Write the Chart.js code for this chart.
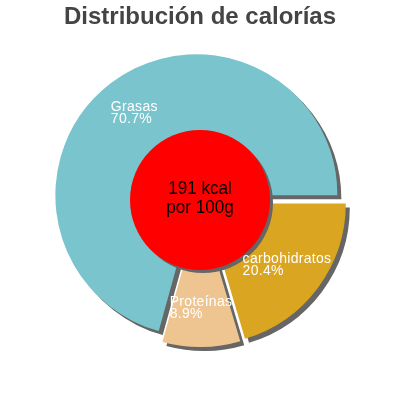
<!DOCTYPE html>
<html>
<head>
<meta charset="utf-8">
<script src="https://cdn.jsdelivr.net/npm/chart.js@4/dist/chart.umd.min.js"></script>
<style>
  html, body { margin: 0; padding: 0; background: #fff; }
  #wrap { width: 400px; height: 400px; }
</style>
</head>
<body>
<div id="wrap"><canvas id="chart" width="400" height="400"></canvas></div>
<script>
// data
var labels = ["carbohidratos", "Proteínas", "Grasas"];
var percents = [20.4, 8.9, 70.7];
var colors = ["#DAA520", "#EEC591", "#7AC5CD"];
var centerLines = ["191 kcal", "por 100g"];
var title = "Distribución de calorías";

var explode = 6;   // px each slice is pushed out from the centre

var pieExtras = {
    id: 'pieExtras',
    beforeDatasetsDraw: function(chart) {
        var ctx = chart.ctx;
        // Chart.js's own "offset" also grows big slices, so shift them by hand
        chart.getDatasetMeta(0).data.forEach(function(arc) {
            if (arc._exploded) return;
            var draw = arc.draw;
            arc.draw = function(c, area) {
                var mid = (this.startAngle + this.endAngle) / 2;
                c.save();
                c.translate(Math.cos(mid) * explode, Math.sin(mid) * explode);
                draw.call(this, c, area);
                c.restore();
            };
            arc._exploded = true;
        });
        ctx.save();
        ctx.shadowColor = "#666666";
        ctx.shadowOffsetX = 4;
        ctx.shadowOffsetY = 4;
        ctx.shadowBlur = 0;
    },
    afterDatasetsDraw: function(chart) {
        var ctx = chart.ctx;
        ctx.restore();
        var meta = chart.getDatasetMeta(0);
        var arc0 = meta.data[0];
        var cx = arc0.x, cy = arc0.y;
        var r = arc0.outerRadius;

        // red centre disc with its shadow
        ctx.save();
        ctx.shadowColor = "#666666";
        ctx.shadowOffsetX = 3;
        ctx.shadowOffsetY = 3;
        ctx.shadowBlur = 0;
        ctx.fillStyle = "#FF0000";
        ctx.beginPath();
        ctx.arc(cx, cy, 70, 0, Math.PI * 2);
        ctx.fill();
        ctx.restore();

        ctx.save();
        ctx.fillStyle = "#000";
        ctx.font = "19px 'Liberation Sans', Arial, sans-serif";
        ctx.textAlign = "center";
        ctx.textBaseline = "middle";
        ctx.translate(cx, cy);
        ctx.scale(0.9, 1);
        ctx.fillText(centerLines[0], 0, -11);
        ctx.fillText(centerLines[1], 0, 8);
        ctx.restore();

        // slice labels, left aligned block centred on the slice
        ctx.save();
        ctx.fillStyle = "#fff";
        ctx.font = "14px 'Liberation Sans', Arial, sans-serif";
        ctx.letterSpacing = "0.3px";
        ctx.textAlign = "left";
        ctx.textBaseline = "middle";
        meta.data.forEach(function(arc, i) {
            var mid = (arc.startAngle + arc.endAngle) / 2;
            var d = r * 0.727 + explode;
            var x = cx + Math.cos(mid) * d;
            var y = cy + Math.sin(mid) * d;
            var l1 = labels[i];
            var l2 = percents[i].toFixed(1) + "%";
            var w = Math.max(ctx.measureText(l1).width, ctx.measureText(l2).width);
            ctx.fillText(l1, x - w / 2, y - 6);
            ctx.fillText(l2, x - w / 2, y + 6);
        });
        ctx.restore();
    }
};

var ctx = document.getElementById("chart");
var chart = new Chart(ctx, {
    type: 'pie',
    data: {
        labels: labels,
        datasets: [{
            data: percents,
            backgroundColor: colors,
            borderWidth: 0
        }]
    },
    options: {
        responsive: false,
        animation: false,
        rotation: 90,
        radius: 141,
        layout: { padding: { bottom: 31.8 } },
        plugins: {
            legend: { display: false },
            tooltip: { enabled: false },
            title: {
                display: true,
                text: title,
                color: "#444444",
                font: { family: "'Liberation Sans', Arial, sans-serif", size: 24, weight: 'bold', lineHeight: 1.2 },
                padding: { top: 3, bottom: 0 }
            }
        }
    },
    plugins: [pieExtras]
});
</script>
</body>
</html>
